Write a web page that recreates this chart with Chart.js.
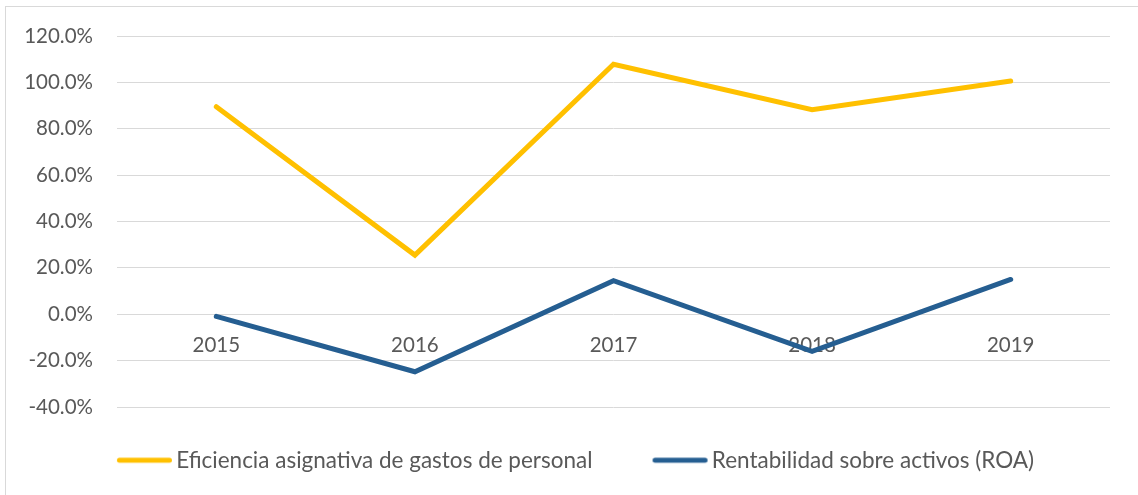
<!DOCTYPE html>
<html lang="es">
<head>
  <meta charset="UTF-8" />
  <title>Eficiencia asignativa vs ROA</title>
  <style>
    html, body {
      margin: 0;
      width: 1138px;
      height: 495px;
      overflow: hidden;
      background: #ffffff;
      font-family: 'Lato', sans-serif;
    }
    .frame {
      position: absolute;
      left: 5px;
      top: 6px;
      width: 1160px;
      height: 520px;
      border: 1px solid #d9d9d9;
      overflow: hidden;
    }
    canvas {
      display: block;
    }
  </style>
</head>
<body>
  <div class="frame">
    <canvas id="chart" width="1121" height="488"></canvas>
  </div>

  <script src="https://cdn.jsdelivr.net/npm/chart.js"></script>
  <script>
    // años y series (en %)
    const years = ["2015", "2016", "2017", "2018", "2019"];
    const eficiencia = [89.5, 25.5, 107.8, 88.2, 100.6];
    const roa = [-0.9, -24.8, 14.5, -16.0, 15.0];
    const yTicks = [120, 100, 80, 60, 40, 20, 0, -20, -40];

    const labelColor = "#595959";
    const gridColor = "#d9d9d9";
    const yellow = "#ffc000";
    const blue = "#255e91";

    // muestra de línea para la leyenda, desplazada hacia el texto como en Excel
    function legendLine(color) {
      const c = document.createElement("canvas");
      c.width = 82;
      c.height = 8;
      const g = c.getContext("2d");
      g.strokeStyle = color;
      g.lineWidth = 5;
      g.lineCap = "round";
      g.beginPath();
      g.moveTo(28.5, 4);
      g.lineTo(78.5, 4);
      g.stroke();
      return c;
    }

    new Chart(document.getElementById("chart").getContext("2d"), {
      type: "line",
      data: {
        labels: years,
        datasets: [
          {
            label: "Eficiencia asignativa de gastos de personal",
            data: eficiencia,
            borderColor: yellow,
            backgroundColor: yellow,
            borderWidth: 5,
            borderCapStyle: "round",
            pointRadius: 0,
            pointStyle: legendLine(yellow),
            tension: 0,
            fill: false
          },
          {
            label: "Rentabilidad sobre activos (ROA)",
            data: roa,
            borderColor: blue,
            backgroundColor: blue,
            borderWidth: 5,
            borderCapStyle: "round",
            pointRadius: 0,
            pointStyle: legendLine(blue),
            tension: 0,
            fill: false
          }
        ]
      },
      options: {
        responsive: false,
        animation: false,
        layout: {
          padding: { top: 29, left: 0, right: 0, bottom: 13.5 }
        },
        plugins: {
          tooltip: { enabled: false },
          legend: {
            position: "bottom",
            labels: {
              usePointStyle: true,
              pointStyleWidth: 66,
              padding: 42,
              color: labelColor,
              font: { family: "Lato", size: 22.5 }
            }
          }
        },
        scales: {
          x: {
            position: { y: 0 },
            offset: true,
            grid: { display: false, drawTicks: false },
            border: { display: false },
            ticks: {
              color: labelColor,
              padding: 19,
              font: { family: "Lato", size: 20.5 }
            }
          },
          y: {
            min: -40,
            max: 120,
            afterFit: (s) => {
              s.width = 111;
              s.paddingTop = 12;
              s.paddingBottom = 12;
            },
            afterBuildTicks: (s) => { s.ticks = yTicks.map(v => ({ value: v })); },
            grid: { color: gridColor, lineWidth: 1, drawTicks: false },
            border: { display: false },
            ticks: {
              color: labelColor,
              padding: 24,
              font: { family: "Lato", size: 20.5 },
              callback: (v) => v.toFixed(1) + "%"
            }
          },
          // eje vacío a la derecha: solo deja el margen del área de trazado
          yRight: {
            position: "right",
            min: -40,
            max: 120,
            afterFit: (s) => { s.width = 17; },
            grid: { display: false, drawTicks: false },
            border: { display: false },
            ticks: { display: false }
          }
        }
      }
    });
  </script>
</body>
</html>
